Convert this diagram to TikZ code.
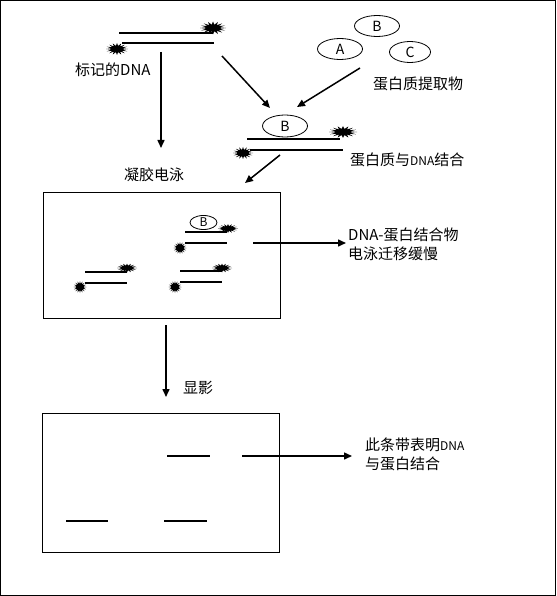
\documentclass[tikz,border=0pt]{standalone}
\usepackage{fontspec}
\setmainfont{Noto Sans CJK SC}
\usetikzlibrary{arrows.meta,shapes.geometric}
\tikzset{
  strand/.style={line width=2pt},
  band/.style={line width=2pt},
  conn/.style={line width=1.5pt,-{Triangle[length=8pt,width=7pt]}},
  gelbox/.style={draw,line width=1pt},
  prot/.style={draw,ellipse,line width=0.8pt,inner sep=0pt,minimum width=45pt,minimum height=21pt,font=\fontsize{14}{16}\selectfont},
  protsmall/.style={draw,ellipse,line width=0.8pt,inner sep=0pt,minimum width=27pt,minimum height=14pt,font=\fontsize{12}{14}\selectfont},
  lbl/.style={inner sep=0pt,anchor=west,align=left,font=\fontsize{15}{19}\selectfont},
  burst/.pic={\fill plot[samples=33,domain=0:360] ({(0.76+0.24*cos(16*\x))*cos(\x)},{(0.76+0.24*cos(16*\x))*sin(\x)}) -- cycle;}
}
\newcommand{\smalldna}{{\fontsize{12}{14}\selectfont DNA}}
\begin{document}
\begin{tikzpicture}[x=1pt,y=-1pt]
\useasboundingbox (0,0) rectangle (556,596);
\draw[line width=1pt] (0.5,0.5) rectangle (555.5,595.5);

% labelled DNA
\draw[strand] (119,33) -- (213,33);
\draw[strand] (122,43.5) -- (214,43.5);
\pic[xscale=13,yscale=6.5] at (213,28) {burst};
\pic[xscale=11,yscale=6] at (117,49) {burst};
\node[lbl] (ldna) at (75,70) {标记的DNA};

% protein extract
\node[prot] (pB) at (377,26) {B};
\node[prot] (pA) at (340,49) {A};
\node[prot,minimum width=41pt] (pC) at (410,52) {C};
\node[lbl] (lext) at (373,84) {蛋白质提取物};

% complex
\node[prot,minimum height=22pt] (cB) at (285,126) {B};
\draw[strand] (247,139) -- (340,139);
\draw[strand] (250,150) -- (343,150);
\pic[xscale=14,yscale=6] at (343,132) {burst};
\pic[xscale=10,yscale=6] at (243,153) {burst};
\node[lbl] (lbind) at (350,160) {蛋白质与\smalldna 结合};

% arrows top
\coordinate (a1s) at (161,52);  \coordinate (a1e) at (161,148);
\coordinate (a2s) at (222,56);  \coordinate (a2e) at (270,108);
\coordinate (a3s) at (360,68);  \coordinate (a3e) at (297,107);
\coordinate (a4s) at (280,155); \coordinate (a4e) at (245,183);
\draw[conn] (a1s) -- (a1e);
\draw[conn] (a2s) -- (a2e);
\draw[conn] (a3s) -- (a3e);
\draw[conn] (a4s) -- (a4e);

\node[lbl] (lgel) at (124,175) {凝胶电泳};

% gel 1
\draw[gelbox] (43,192) rectangle (280,318);
\node[protsmall] (gB) at (203.5,222.5) {B};
\draw[strand] (185,232) -- (227,232);
\draw[strand] (185,243) -- (227,243);
\pic[xscale=10,yscale=4.5] at (228,228.5) {burst};
\pic[xscale=6.5,yscale=6] at (180,248) {burst};
\draw[strand] (85,272) -- (127,272);
\draw[strand] (85,283) -- (127,283);
\pic[xscale=10,yscale=4.5] at (127,268) {burst};
\pic[xscale=6.5,yscale=6] at (80,287) {burst};
\draw[strand] (180,271) -- (222,271);
\draw[strand] (180,282) -- (222,282);
\pic[xscale=10,yscale=4.5] at (222,268) {burst};
\pic[xscale=6.5,yscale=6] at (175,287) {burst};

\coordinate (a5s) at (253,243); \coordinate (a5e) at (346,243);
\draw[conn] (a5s) -- (a5e);
\node[lbl] (lslow) at (348,244) {DNA-蛋白结合物\\电泳迁移缓慢};

% develop
\coordinate (a6s) at (166,325); \coordinate (a6e) at (166,397);
\draw[conn] (a6s) -- (a6e);
\node[lbl] (ldev) at (183,388) {显影};

% gel 2
\draw[gelbox] (42,413) rectangle (279,552);
\draw[band] (167,456) -- (210,456);
\draw[band] (66,521) -- (108,521);
\draw[band] (164,521) -- (207,521);
\coordinate (a7s) at (242,456); \coordinate (a7e) at (352,456);
\draw[conn] (a7s) -- (a7e);
\node[lbl] (lband) at (365,454) {此条带表明\smalldna\\与蛋白结合};
\end{tikzpicture}
\end{document}
